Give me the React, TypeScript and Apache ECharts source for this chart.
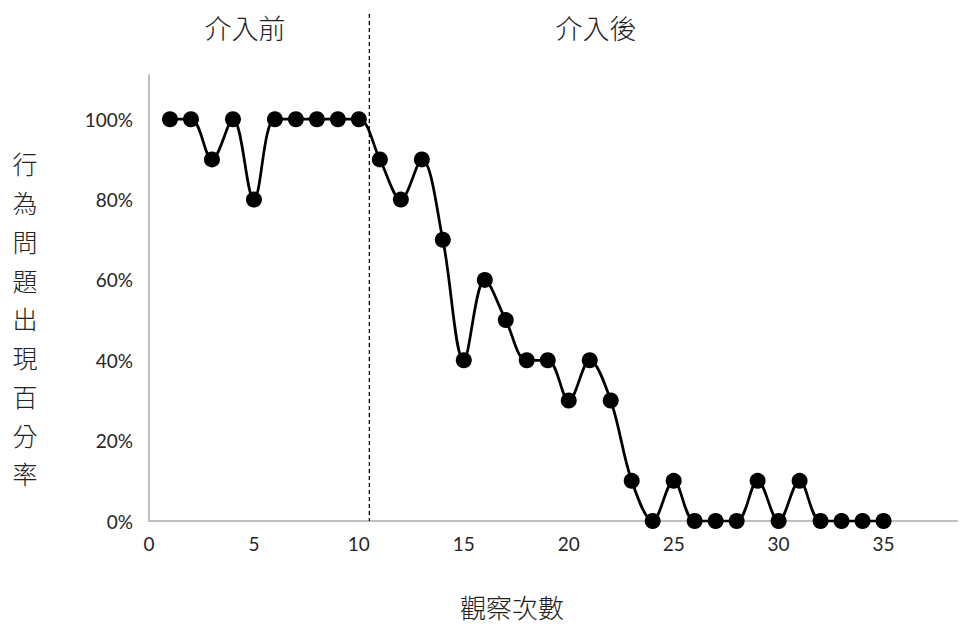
import React, { useEffect, useRef } from "react";
import * as echarts from "echarts";

const sessions = [1,2,3,4,5,6,7,8,9,10,11,12,13,14,15,16,17,18,19,20,21,22,23,24,25,26,27,28,29,30,31,32,33,34,35];
const percents = [100,100,90,100,80,100,100,100,100,100,90,80,90,70,40,60,50,40,40,30,40,30,10,0,10,0,0,0,10,0,10,0,0,0,0];
const phaseLabels = ["介入前", "介入後"];
const phaseBoundary = 10.5;
const xTitle = "觀察次數";
const yTitle = "行為問題出現百分率";

export default function App() {
  const ref = useRef<HTMLDivElement>(null);
  useEffect(() => {
    const chart = echarts.init(ref.current!, null, { renderer: "svg" });
    const cjk = "'Noto Sans CJK TC', 'Noto Sans CJK SC', sans-serif";
    const latin = "Lato, 'Open Sans', sans-serif";
    chart.setOption({
      animation: false,
      grid: { left: 149, right: 4, top: 75, bottom: 105 },
      xAxis: {
        type: "value",
        min: 0,
        max: 38.5,
        interval: 5,
        axisLine: { show: true, lineStyle: { color: "#bfbfbf", width: 2 } },
        axisTick: { show: false },
        splitLine: { show: false },
        axisLabel: {
          margin: 13,
          fontSize: 19,
          color: "#262626",
          fontFamily: latin,
          formatter: (v: number) => (v % 5 === 0 ? String(v) : ""),
        },
      },
      yAxis: {
        type: "value",
        min: 0,
        max: 111,
        interval: 20,
        axisLine: { show: true, lineStyle: { color: "#bfbfbf", width: 2 } },
        axisTick: { show: false },
        splitLine: { show: false },
        axisLabel: {
          margin: 16,
          fontSize: 19,
          color: "#262626",
          fontFamily: latin,
          formatter: (v: number) => (v % 20 === 0 && v <= 100 ? v + "%" : ""),
        },
      },
      series: [
        {
          type: "line",
          data: sessions.map((s, i) => [s, percents[i]]),
          smooth: 0.35,
          symbol: "circle",
          symbolSize: 16,
          itemStyle: { color: "#000" },
          lineStyle: { color: "#000", width: 2.75 },
        },
      ],
    });
    const px = chart.convertToPixel({ gridIndex: 0 }, [phaseBoundary, 0]) as number[];
    const leftC = chart.convertToPixel({ gridIndex: 0 }, [4.57, 0]) as number[];
    const rightC = chart.convertToPixel({ gridIndex: 0 }, [21.3, 0]) as number[];
    const txt = { fontFamily: cjk, fontWeight: 300, fill: "#222", align: "center", verticalAlign: "middle" };
    chart.setOption({
      graphic: [
        {
          type: "line",
          shape: { x1: px[0], y1: 14, x2: px[0], y2: px[1] },
          style: { stroke: "#000", lineWidth: 1.3, lineDash: [4, 3] },
          z: 10,
        },
        { type: "text", x: leftC[0], y: 27, style: { ...txt, text: phaseLabels[0], fontSize: 27 } },
        { type: "text", x: rightC[0], y: 27, style: { ...txt, text: phaseLabels[1], fontSize: 27 } },
        { type: "text", x: 512, y: 606, style: { ...txt, text: xTitle, fontSize: 26 } },
        {
          type: "text",
          x: 25,
          y: 144,
          style: {
            ...txt,
            text: yTitle.split("").join("\n"),
            fontSize: 25,
            lineHeight: 38.75,
            verticalAlign: "top",
          },
        },
      ],
    });
    return () => chart.dispose();
  }, []);
  return <div ref={ref} style={{ width: 961, height: 626, position: "absolute", left: 0, top: 0 }} />;
}
